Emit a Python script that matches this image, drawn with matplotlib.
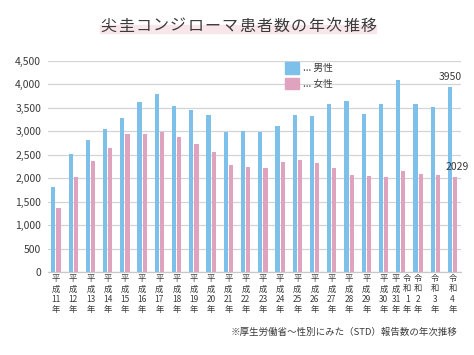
import matplotlib.pyplot as plt
from matplotlib.patches import Patch, Rectangle

plt.rcParams['font.family'] = ['Noto Sans CJK JP', 'DejaVu Sans']

title = '尖圭コンジローマ患者数の年次推移'
source = '※厚生労働省〜性別にみた（STD）報告数の年次推移'

# 年次ラベル (平成31年/令和1年 は同じ棒)
years = ['平成11年', '平成12年', '平成13年', '平成14年', '平成15年', '平成16年',
         '平成17年', '平成18年', '平成19年', '平成20年', '平成21年', '平成22年',
         '平成23年', '平成24年', '平成25年', '平成26年', '平成27年', '平成28年',
         '平成29年', '平成30年', '平成31年/令和1年', '令和2年', '令和3年', '令和4年']
male = [1820, 2509, 2814, 3041, 3290, 3617, 3788, 3539, 3461, 3347, 2985, 3006,
        2992, 3113, 3347, 3333, 3582, 3653, 3376, 3582, 4100, 3582, 3511, 3950]
female = [1373, 2034, 2360, 2651, 2950, 2936, 2992, 2871, 2722, 2559, 2282, 2240,
          2226, 2339, 2381, 2332, 2218, 2062, 2048, 2027, 2147, 2090, 2076, 2029]

blue = '#7dc0ea'
pink = '#dfa3bf'
text_col = '#3a3a3a'

W, H = 474, 355
fig = plt.figure(figsize=(W / 100, H / 100), dpi=100)
fig.patch.set_facecolor('white')
ax = fig.add_axes([48 / W, (H - 272.2) / H, (461 - 48) / W, (272.2 - 61) / H])

x = list(range(len(years)))
ax.bar([i - 0.15 for i in x], male, width=0.24, color=blue, zorder=3)
ax.bar([i + 0.15 for i in x], female, width=0.24, color=pink, zorder=3)

ax.set_xlim(-0.46, 23.49)
ax.set_ylim(0, 4500)
ax.set_yticks(range(0, 4501, 500))
ax.set_yticklabels([f'{v:,}' for v in range(0, 4501, 500)])
ax.tick_params(axis='y', length=0, labelsize=7.5, labelcolor=text_col, pad=5)
ax.set_xticks([])
ax.grid(axis='y', color='#d4d4d4', linewidth=0.9, zorder=0)
for s in ['top', 'right', 'left']:
    ax.spines[s].set_visible(False)
ax.spines['bottom'].set_color('#c8c8c8')
ax.spines['bottom'].set_linewidth(0.9)

# 縦書きの年ラベル
def vlabel(xpos, s):
    era, rest = s[:2], s[2:-1]
    ax.text(xpos, -40, f'{era[0]}\n{era[1]}\n{rest}\n年', ha='center', va='top',
            fontsize=6, color=text_col, linespacing=1.2, clip_on=False)

for i, y in enumerate(years):
    if '/' in y:
        a, b = y.split('/')
        vlabel(i - 0.27, a)
        vlabel(i + 0.37, b)
    else:
        vlabel(i, y)

# 最新値の注記
ax.text(23 - 0.15, male[-1] + 100, str(male[-1]), ha='center', va='bottom',
        fontsize=7.5, color=text_col)
ax.text(23 + 0.3, female[-1] + 100, str(female[-1]), ha='center', va='bottom',
        fontsize=7.5, color=text_col)

# 凡例
handles = [Patch(color=blue), Patch(color=pink)]
ax.legend(handles, ['... 男性', '... 女性'], loc='upper left',
          bbox_to_anchor=(285 / W, (H - 62) / H), bbox_transform=fig.transFigure,
          frameon=False, fontsize=7, handlelength=1.45, handleheight=1.45,
          handletextpad=0.4, labelspacing=0.45, borderpad=0, borderaxespad=0,
          labelcolor=text_col)

# タイトル (字間を空けて配置)
fig.patches.append(Rectangle((100 / W, (H - 33) / H), 276 / W, 8 / H,
                             transform=fig.transFigure, color='#f9e6ea', zorder=0))
step = 277 / len(title)
for k, ch in enumerate(title):
    fig.text((100 + step * (k + 0.5)) / W, (H - 26) / H, ch, ha='center', va='center',
             fontsize=11.5, color=text_col)

fig.text(458 / W, (H - 332) / H, source, ha='right', va='center', fontsize=6.8,
         color=text_col)

fig.savefig('out.png', dpi=100, facecolor='white')
